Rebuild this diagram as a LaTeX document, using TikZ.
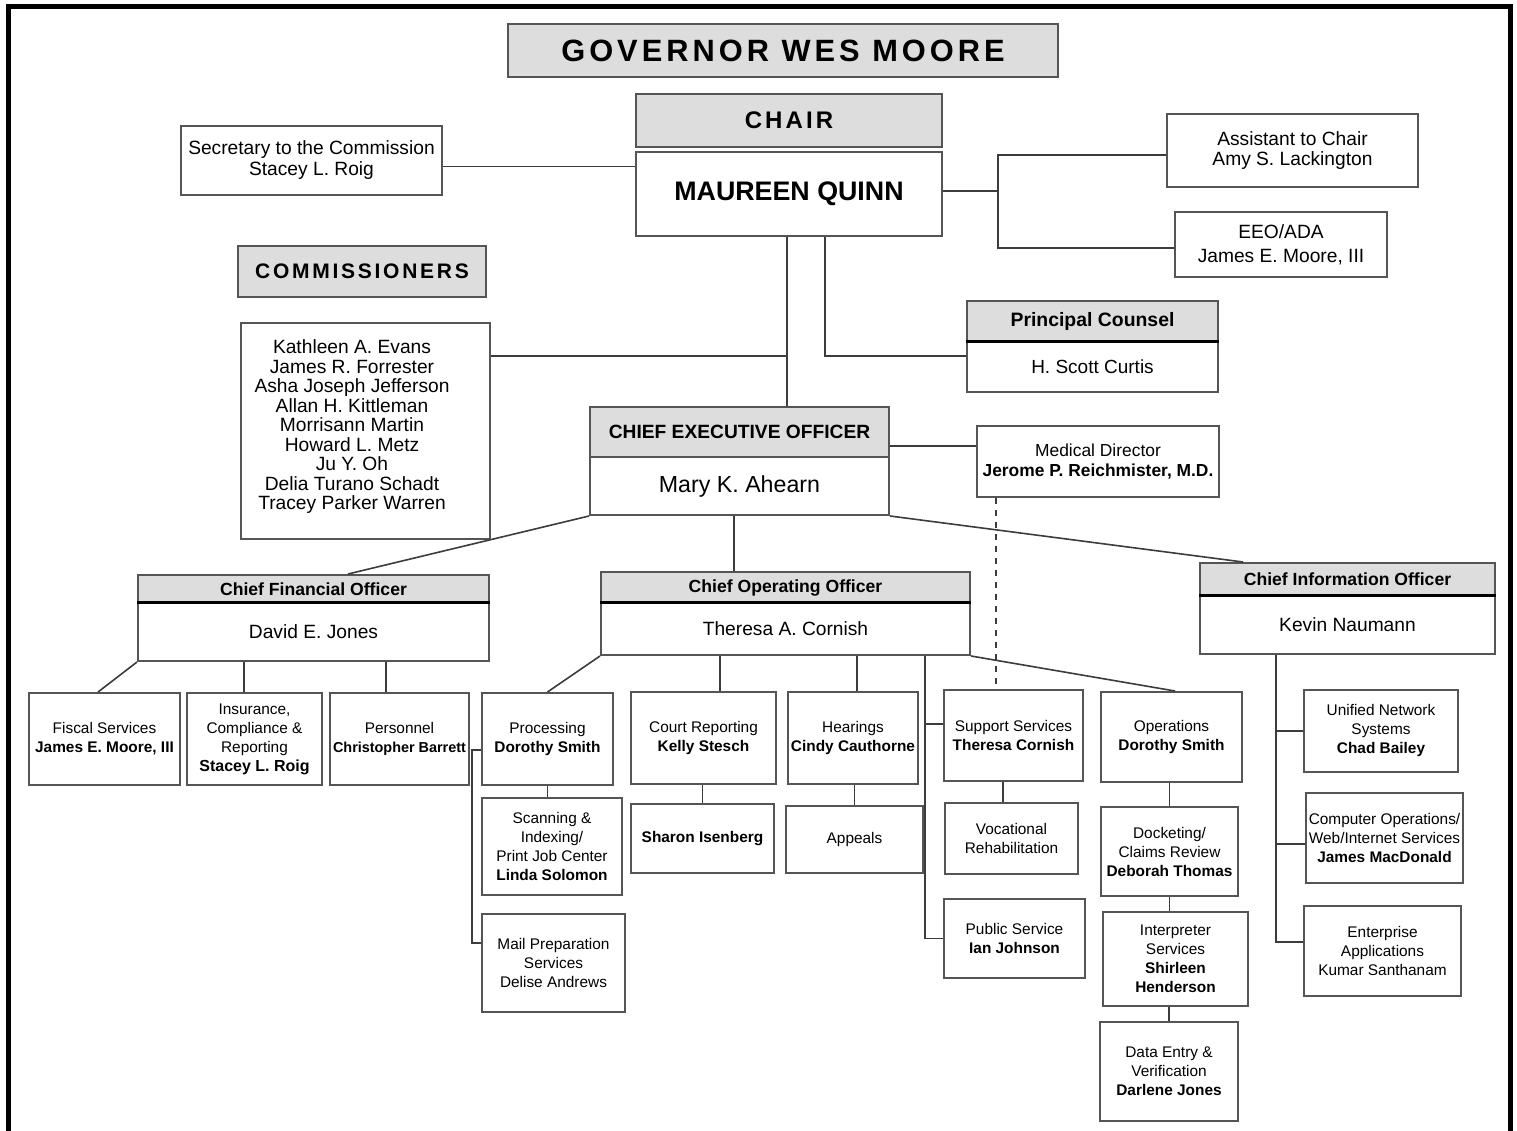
\documentclass[tikz,border=0pt]{standalone}
\usepackage{fontspec}
\setmainfont{Liberation Sans}
\usetikzlibrary{calc}
\definecolor{headgray}{RGB}{221,221,221}
\definecolor{boxline}{RGB}{85,85,85}
\definecolor{linegray}{RGB}{60,60,60}
\newcommand{\smallsize}{\fontsize{7.7pt}{9.5pt}\selectfont}
\newcommand{\midsize}{\fontsize{9.6pt}{10.2pt}\selectfont}
\newcommand{\headsize}{\fontsize{8.8pt}{10pt}\selectfont\bfseries}
\tikzset{
    box/.style={draw=boxline, line width=1pt, fill=white, inner sep=0.5pt, align=center, font=\smallsize},
    headbox/.style={box, fill=headgray},
    chiefhead/.style={headbox, font=\headsize},
    chiefbody/.style={box, font=\fontsize{9.6pt}{10.2pt}\selectfont},
    spaced/.style={font={\fontsize{#1}{#1}\bfseries\addfontfeature{LetterSpace=13}}},
    link/.style={draw=linegray, line width=0.8pt},
    dotlink/.style={link, dashed},
    divider/.style={line width=1.5pt, black},
}
\begin{document}
\begin{tikzpicture}[x=0.5pt, y=-0.5pt]
\useasboundingbox (0,0) rectangle (1517,1131);
\draw[line width=2.5pt] (8,1140) -- (8,6.5) -- (1510.5,6.5) -- (1510.5,1140);

% commission
\node[headbox, spaced=15.4pt, minimum width=275pt, minimum height=26.5pt] (governor) at (783,50.5) {GOVERNOR WES MOORE};
\node[headbox, spaced=12pt, minimum width=153pt, minimum height=26.5pt] (chair-head) at (789,120.5) {CHAIR};
\node[box, font=\fontsize{13.4pt}{14pt}\selectfont\bfseries, minimum width=153pt, minimum height=42pt] (chair) at (789,194) {MAUREEN QUINN};
\node[box, font=\fontsize{9.6pt}{10.5pt}\selectfont, minimum width=130.5pt, minimum height=34.5pt] (secretary) at (311.5,160.5) {Secretary to the Commission\\Stacey L. Roig};
\node[box, font=\fontsize{9.6pt}{9.8pt}\selectfont, minimum width=125.5pt, minimum height=36.5pt] (assistant) at (1292.5,150.5) {Assistant to Chair\\Amy S. Lackington};
\node[box, font=\fontsize{9.6pt}{12pt}\selectfont, minimum width=106pt, minimum height=32.5pt] (eeo) at (1281,244.5) {EEO/ADA\\James E. Moore, III};
\node[headbox, spaced=10.5pt, minimum width=124pt, minimum height=25.5pt] (commissioners-head) at (362,271.5) {COMMISSIONERS};
\node[box, minimum width=124.5pt, minimum height=108pt] (commissioners) at (365.5,431) {};
\node[font=\fontsize{9.6pt}{9.75pt}\selectfont, align=center, inner sep=0pt] (commissioner-names) at (352,427) {Kathleen A. Evans\\James R. Forrester\\Asha Joseph Jefferson\\Allan H. Kittleman\\Morrisann Martin\\Howard L. Metz\\Ju Y. Oh\\Delia Turano Schadt\\Tracey Parker Warren};
\node[headbox, font=\fontsize{9.7pt}{10pt}\selectfont\bfseries, minimum width=125.5pt, minimum height=20.5pt] (counsel-head) at (1092.5,321.5) {Principal Counsel};
\node[box, font=\fontsize{9.5pt}{10pt}\selectfont, minimum width=125.5pt, minimum height=25pt] (counsel) at (1092.5,367) {H. Scott Curtis};

% executive
\node[headbox, font=\fontsize{9.6pt}{10pt}\selectfont\bfseries, minimum width=149.5pt, minimum height=25pt] (ceo-head) at (739.5,432) {CHIEF EXECUTIVE OFFICER};
\node[box, font=\fontsize{11.6pt}{12pt}\selectfont, minimum width=149.5pt, minimum height=29pt] (ceo) at (739.5,486) {Mary K. Ahearn};
\node[box, font=\fontsize{8.7pt}{10pt}\selectfont, minimum width=121pt, minimum height=35.5pt] (medical) at (1098,461.5) {Medical Director\\\textbf{Jerome P. Reichmister, M.D.}};
\node[chiefhead, minimum width=175.5pt, minimum height=14pt] (cfo-head) at (313.5,589) {Chief Financial Officer};
\node[chiefbody, minimum width=175.5pt, minimum height=29pt] (cfo) at (313.5,632) {David E. Jones};
\node[chiefhead, minimum width=184.5pt, minimum height=15.5pt] (coo-head) at (785.5,587.5) {Chief Operating Officer};
\node[chiefbody, minimum width=184.5pt, minimum height=26pt] (coo) at (785.5,629) {Theresa A. Cornish};
\node[chiefhead, minimum width=147.5pt, minimum height=16.5pt] (cio-head) at (1347.5,579.5) {Chief Information Officer};
\node[chiefbody, minimum width=147.5pt, minimum height=29pt] (cio) at (1347.5,625) {Kevin Naumann};
\draw[divider] (cfo.north west) -- (cfo.north east);
\draw[divider] (coo.north west) -- (coo.north east);
\draw[divider] (cio.north west) -- (cio.north east);
\draw[divider] (counsel.north west) -- (counsel.north east);

% units
\node[box, minimum width=75.5pt, minimum height=46pt] (fiscal) at (104.5,739) {Fiscal Services\\\textbf{James E. Moore, III}};
\node[box, minimum width=67.5pt, minimum height=46pt] (insurance) at (254.5,739) {Insurance,\\Compliance \&\\Reporting\\\textbf{\fontsize{8pt}{9.5pt}\selectfont Stacey L. Roig}};
\node[box, minimum width=69.5pt, minimum height=46pt] (personnel) at (399.5,739) {Personnel\\\textbf{\fontsize{7.2pt}{9.5pt}\selectfont Christopher Barrett}};
\node[box, minimum width=65.5pt, minimum height=46pt] (processing) at (547.5,739) {Processing\\\textbf{Dorothy Smith}};
\node[box, minimum width=70pt, minimum height=48.5pt] (scanning) at (552,846.5) {Scanning \&\\Indexing/\\Print Job Center\\\textbf{Linda Solomon}};
\node[box, minimum width=71.5pt, minimum height=49pt] (mailprep) at (553.5,963) {Mail Preparation\\Services\\Delise Andrews};
\node[box, minimum width=72.5pt, minimum height=46pt] (court) at (703.5,738) {Court Reporting\\\textbf{Kelly Stesch}};
\node[box, minimum width=71.5pt, minimum height=34.5pt] (isenberg) at (702.5,838.5) {\textbf{Sharon Isenberg}};
\node[box, minimum width=65pt, minimum height=46pt] (hearings) at (853,738) {Hearings\\\textbf{Cindy Cauthorne}};
\node[box, minimum width=68.5pt, minimum height=33.5pt] (appeals) at (854.5,839.5) {Appeals};
\node[box, minimum width=69.5pt, minimum height=45.5pt] (support) at (1013.5,735.5) {Support Services\\\textbf{Theresa Cornish}};
\node[box, minimum width=66.5pt, minimum height=35.5pt] (vocational) at (1011.5,838.5) {Vocational\\Rehabilitation};
\node[box, minimum width=70.5pt, minimum height=39.5pt] (public) at (1014.5,938.5) {Public Service\\\textbf{Ian Johnson}};
\node[box, minimum width=70.5pt, minimum height=45pt] (operations) at (1171.5,737) {Operations\\\textbf{Dorothy Smith}};
\node[box, minimum width=68.5pt, minimum height=44.5pt] (docketing) at (1169.5,851.5) {Docketing/\\Claims Review\\\textbf{Deborah Thomas}};
\node[box, minimum width=72.5pt, minimum height=47pt] (interpreter) at (1175.5,959) {Interpreter\\Services\\\textbf{Shirleen}\\\textbf{Henderson}};
\node[box, minimum width=69pt, minimum height=49.5pt] (dataentry) at (1169,1071.5) {Data Entry \&\\Verification\\\textbf{Darlene Jones}};
\node[box, minimum width=77pt, minimum height=41pt] (unified) at (1381,731) {Unified Network\\Systems\\\textbf{Chad Bailey}};
\node[box, minimum width=78.5pt, minimum height=45pt] (compops) at (1384.5,838) {Computer Operations/\\Web/Internet Services\\\textbf{James MacDonald}};
\node[box, minimum width=78.5pt, minimum height=45pt] (enterprise) at (1382.5,951) {Enterprise\\Applications\\Kumar Santhanam};

% chair links
\draw[link] ([yshift=-3pt]secretary.east) -- ([yshift=-3pt]secretary.east -| chair.west);
\draw[link] ([yshift=1.5pt]chair.east) -- ++(55,0) coordinate (chair-split);
\draw[link] ([yshift=-2.25pt]assistant.west) -| (chair-split) |- ([yshift=-1.75pt]eeo.west);
\coordinate (chair-trunk) at ([xshift=-1pt]chair.south);
\draw[link] (chair-trunk) -- (chair-trunk |- ceo-head.north);
\coordinate (comm-out) at ([yshift=-17pt]commissioners.north east);
\draw[link] (comm-out) -- (comm-out -| chair-trunk);
\coordinate (counsel-trunk) at ([xshift=18pt]chair.south);
\draw[link] (counsel-trunk) |- ([yshift=5.5pt]counsel.west);

% ceo links
\coordinate (medical-in) at ([yshift=-7pt]ceo-head.east);
\draw[link] (medical-in) -- (medical-in -| medical.west);
\coordinate (support-top) at ([xshift=-8.75pt]support.north);
\draw[dotlink] (support-top |- medical.south) -- (support-top);
\draw[link] (ceo.south west) -- ([xshift=17.25pt]cfo-head.north);
\coordinate (coo-in) at ([xshift=-2.75pt]ceo.south);
\draw[link] (coo-in) -- (coo-in |- coo-head.north);
\draw[link] (ceo.south east) -- ([xshift=-52.25pt]cio-head.north);

% cfo links
\draw[link] (cfo.south west) -- ([xshift=-3.25pt]fiscal.north);
\coordinate (insurance-in) at ([xshift=-5.25pt]insurance.north);
\draw[link] (insurance-in |- cfo.south) -- (insurance-in);
\coordinate (personnel-in) at ([xshift=-6.75pt]personnel.north);
\draw[link] (personnel-in |- cfo.south) -- (personnel-in);

% coo links
\draw[link] (coo.south west) -- (processing.north);
\draw[link] (processing.south) -- (processing.south |- scanning.north);
\draw[link] ([yshift=-5.5pt]processing.west) -- ++(-9,0) |- ([yshift=10pt]mailprep.west);
\coordinate (court-in) at ([xshift=8.25pt]court.north);
\draw[link] (court-in |- coo.south) -- (court-in);
\draw[link] (isenberg.north |- court.south) -- (isenberg.north);
\coordinate (hearings-in) at ([xshift=2pt]hearings.north);
\draw[link] (hearings-in |- coo.south) -- (hearings-in);
\draw[link] (appeals.north |- hearings.south) -- (appeals.north);
\coordinate (support-trunk) at ([xshift=-9pt]support.west);
\draw[link] (support-trunk |- coo.south) |- (public.west);
\draw[link] ([yshift=5.75pt]support.west) -- ([yshift=5.75pt]support-trunk);
\coordinate (vocational-in) at ([xshift=-4.25pt]vocational.north);
\draw[link] (vocational-in |- support.south) -- (vocational-in);
\draw[link] (coo.south east) -- ([xshift=1.75pt]operations.north);
\draw[link] (docketing.north |- operations.south) -- (docketing.north);
\draw[link] (docketing.south) -- (docketing.south |- interpreter.north);
\draw[link] (dataentry.north |- interpreter.south) -- (dataentry.north);

% cio links
\coordinate (cio-trunk) at ([xshift=-35.75pt]cio.south);
\draw[link] (cio-trunk) |- ([yshift=4.5pt]enterprise.west);
\draw[link] (unified.west) -- (unified.west -| cio-trunk);
\coordinate (compops-in) at ([yshift=-3pt]compops.west);
\draw[link] (compops-in) -- (compops-in -| cio-trunk);
\end{tikzpicture}
\end{document}
